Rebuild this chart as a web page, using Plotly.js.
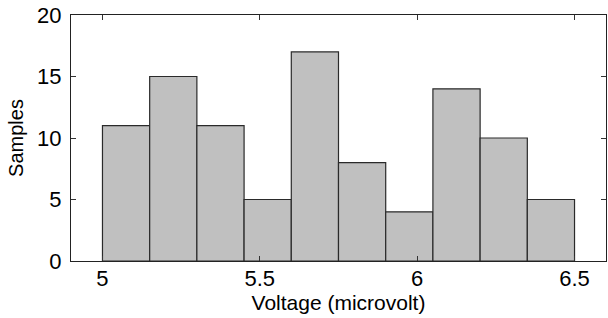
<!DOCTYPE html>
<html>
<head>
<meta charset="utf-8">
<script src="https://cdn.plot.ly/plotly-3.0.1.min.js"></script>
<style>
  html, body { margin: 0; padding: 0; background: #fff; }
  #chart { width: 608px; height: 318px; }
</style>
</head>
<body>
<div id="chart"></div>
<script>
// Histogram bins (left edges, microvolt) and sample counts
const binStarts = [5.00, 5.15, 5.30, 5.45, 5.60, 5.75, 5.90, 6.05, 6.20, 6.35];
const binWidth = 0.15;
const counts = [11, 15, 11, 5, 17, 8, 4, 14, 10, 5];
const xTicks = [5, 5.5, 6, 6.5];
const xTickLabels = ['5', '5.5', '6', '6.5'];
const yTicks = [0, 5, 10, 15, 20];

const trace = {
  type: 'bar',
  x: binStarts,
  y: counts,
  width: binStarts.map(() => binWidth),
  offset: 0,
  marker: { color: '#c0c0c0', line: { color: '#2a2a2a', width: 1.2 } },
  hoverinfo: 'x+y'
};

const fam = 'Arial, "Liberation Sans", sans-serif';

const layout = {
  width: 608, height: 318,
  margin: { l: 71, r: 2, t: 15, b: 57 },
  paper_bgcolor: '#fff', plot_bgcolor: '#fff',
  showlegend: false,
  bargap: 0,
  font: { family: fam, color: '#000' },
  xaxis: {
    range: [4.9, 6.6],
    tickvals: xTicks, ticktext: xTickLabels,
    ticks: 'inside', ticklen: 5, tickcolor: '#333', tickwidth: 1,
    showline: true, linecolor: '#222', linewidth: 1, mirror: 'ticks',
    showgrid: false, zeroline: false,
    ticklabelstandoff: -2,
    tickfont: { family: fam, size: 22, color: '#000' },
    title: { text: 'Voltage (microvolt)', font: { family: fam, size: 21, color: '#000' }, standoff: 2 }
  },
  yaxis: {
    range: [0, 20],
    tickvals: yTicks,
    ticks: 'inside', ticklen: 5, tickcolor: '#333', tickwidth: 1,
    showline: true, linecolor: '#222', linewidth: 1, mirror: 'ticks',
    showgrid: false, zeroline: false,
    ticklabelstandoff: 4,
    tickfont: { family: fam, size: 22, color: '#000' },
    title: { text: 'Samples', font: { family: fam, size: 20, color: '#000' }, standoff: 8 }
  }
};

Plotly.newPlot('chart', [trace], layout, { displayModeBar: false, staticPlot: true });
</script>
</body>
</html>
